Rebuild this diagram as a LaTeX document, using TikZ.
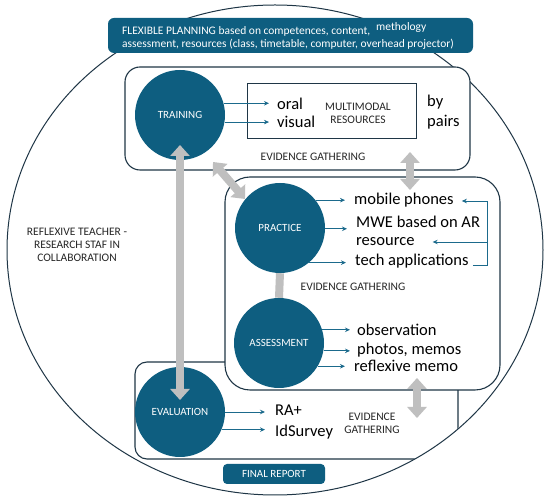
\documentclass[tikz,border=0pt]{standalone}
\usepackage{fontspec}
\setmainfont{Carlito}
\usetikzlibrary{arrows.meta,calc}
\definecolor{teal1}{HTML}{0E5E80}
\definecolor{navy1}{HTML}{1F3646}
\definecolor{gray1}{HTML}{BFBFBF}
\definecolor{arrc}{HTML}{1B6A8C}
\begin{document}
\begin{tikzpicture}[x=1pt,y=-1pt,
 outl/.style={draw=navy1,line width=1.1pt},
 bigcirc/.style={circle,fill=teal1,minimum size=90pt,inner sep=0pt,text=white,font=\fontsize{11}{12}\selectfont},
 big/.style={font=\fontsize{16.5}{20}\selectfont,inner sep=0pt,anchor=west,text=black},
 small/.style={font=\fontsize{11.5}{13}\selectfont,inner sep=0pt,align=center,text=black!85},
 bann/.style={font=\fontsize{11.5}{13}\selectfont,inner sep=0pt,anchor=west,text=white},
 arr/.style={draw=arrc,line width=0.9pt,-{Stealth[length=5pt,width=4.5pt]}},
 garr/.style={draw=gray1,line width=8pt,{Triangle[width=19pt,length=11pt]}-{Triangle[width=19pt,length=11pt]}},
 gbar/.style={draw=gray1,line width=8pt},
]
\useasboundingbox (0,0) rectangle (550,502);
\fill[white] (0,0) rectangle (550,502);
% outer ellipse
\draw[outl,line width=1pt] (275,250) ellipse [x radius=268, y radius=245];
% evaluation box, clipped by the ellipse
\begin{scope}
\clip (275,250) ellipse [x radius=267.5, y radius=244.5];
\draw[outl,rounded corners=12pt] (135,362) rectangle (458,459);
\end{scope}
% training and practice boxes
\draw[outl,fill=white,rounded corners=15pt] (125,67) rectangle (470,170);
\draw[outl,fill=white,rounded corners=25pt] (225,177) rectangle (500,390);
% banner
\fill[teal1,rounded corners=6pt] (108,18) rectangle (473,53);
\node[bann] (b1) at (122,31) {FLEXIBLE PLANNING based on competences, content,};
\node[bann] (b1b) at (376,28) {methology};
\node[bann] (b2) at (122,44) {assessment, resources (class, timetable, computer, overhead projector)};
% circles
\node[bigcirc] (train) at (180,115) {TRAINING};
\node[bigcirc] (prac) at (280,228) {PRACTICE};
\node[bigcirc] (assess) at (279,343) {ASSESSMENT};
\node[bigcirc] (eval) at (180,412) {EVALUATION};
% training content
\node[draw=navy1,line width=1pt,minimum width=169pt,minimum height=55pt,inner sep=0pt] (mrbox) at (331.5,111.5) {};
\node[big] (oral) at (277,104) {oral};
\node[big] (visual) at (277,122) {visual};
\node[small] (mmr) at (358,113) {MULTIMODAL\\RESOURCES};
\node[big,align=left] (pairs) at (427,112) {by\\pairs};
\node[small] (eg1) at (313,157) {EVIDENCE GATHERING};
\draw[arr,shorten >=8pt] (train.15) -- (train.15 -| oral.west);
\draw[arr,shorten >=8pt] (train.-9) -- (train.-9 -| visual.west);
% practice content
\node[big] (mobile) at (354,200) {mobile phones};
\node[big] (mwe) at (356,222) {MWE based on AR};
\node[big] (resource) at (356,242) {resource};
\node[big] (tech) at (355,261) {tech applications};
\node[small] (eg2) at (353,287) {EVIDENCE GATHERING};
\draw[arr,shorten >=9pt] (prac.38) -- (prac.38 -| mobile.west);
\draw[arr,shorten >=9pt] (prac.-1) -- (prac.-1 -| mwe.west);
\draw[arr,shorten >=9pt] (prac.-50) -- (prac.-50 -| tech.west);
\coordinate (brx) at (487,201);
\draw[arr] ([xshift=4pt,yshift=-4pt]tech.east) -| (brx) -- ([xshift=8pt]brx -| mobile.east);
\draw[arr] (brx |- resource.east) -- ([xshift=18pt]resource.east);
% assessment content
\node[big] (obs) at (357,330) {observation};
\node[big] (photos) at (357,350) {photos, memos};
\node[big] (rmemo) at (354,366) {reflexive memo};
\draw[arr,shorten >=7pt] (assess.17) -- (assess.17 -| obs.west);
\draw[arr,shorten >=7pt] (assess.-10) -- (assess.-10 -| photos.west);
\draw[arr,shorten >=9pt] (assess.-31) -- (assess.-31 -| rmemo.west);
% evaluation content
\node[big] (ra) at (275,410) {RA+};
\node[big] (ids) at (275,432) {IdSurvey};
\node[small] (eg3) at (372,423) {EVIDENCE\\GATHERING};
\draw[arr,shorten >=10pt] (eval.0) -- (eval.0 -| ra.west);
\draw[arr,shorten >=10pt] (eval.-23) -- (eval.-23 -| ids.west);
% left label
\node[small] (refl) at (77,245) {REFLEXIVE TEACHER -\\RESEARCH STAF IN\\COLLABORATION};
% final report
\node[fill=teal1,rounded corners=4pt,minimum width=102pt,minimum height=20pt,inner sep=0pt,text=white,font=\fontsize{11}{12}\selectfont] (final) at (274,474) {FINAL REPORT};
% grey connectors
\draw[gbar] (prac.south) -- (assess.north);
\draw[garr] ([yshift=-30pt]train.center) -- ([yshift=12pt]eval.center);
\coordinate (d1) at (213,162);
\coordinate (d2) at (245,199);
\draw[garr] (d1) -- (d2);
\coordinate (v1) at (410,152);
\coordinate (v2) at (410,190);
\draw[garr] (v1) -- (v2);
\coordinate (w1) at (417,378);
\coordinate (w2) at (417,418);
\draw[garr] (w1) -- (w2);
\end{tikzpicture}
\end{document}
